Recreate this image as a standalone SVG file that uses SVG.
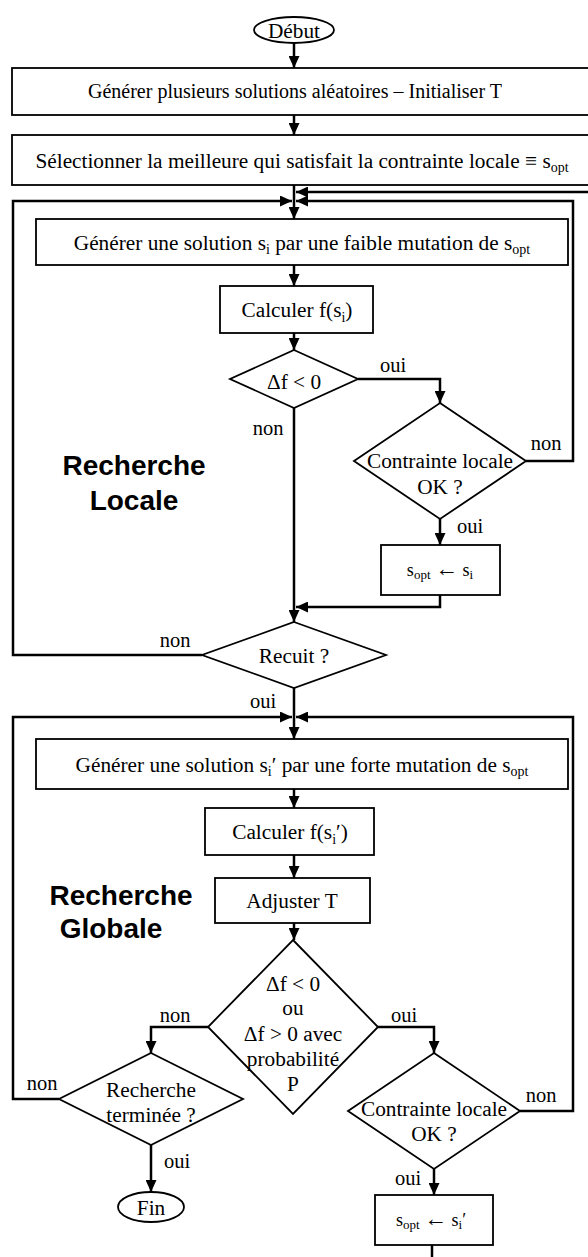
<svg xmlns="http://www.w3.org/2000/svg" width="588" height="1257" viewBox="0 0 588 1257">
<defs>
<marker id="ah" markerUnits="userSpaceOnUse" markerWidth="12" markerHeight="11" refX="12" refY="5.5" orient="auto"><path d="M0,0 L12,5.5 L0,11 z" fill="#000"/></marker>
<style>
.n{fill:#fff;stroke:#000;stroke-width:1.8}
.c{fill:none;stroke:#000;stroke-width:2.5}
.a{marker-end:url(#ah)}
.t{font-family:"Liberation Serif","Times New Roman",serif;font-size:21.3px;fill:#000;text-anchor:middle}
.l{font-size:20.5px}
.f{font-size:20px}
.m{font-size:18px}
.s{font-size:14px}
.ss{font-size:13px}
.ar{font-size:23px}
.b{font-family:"Liberation Sans",Arial,sans-serif;font-weight:bold;font-size:28px;fill:#000;text-anchor:middle}
</style>
</defs>
<rect width="588" height="1257" fill="#fff"/>
<g id="nodes">
<g id="debut"><ellipse class="n" cx="294" cy="30" rx="40" ry="13"/><text class="t" x="294" y="37.5">Début</text></g>
<g id="init"><rect class="n" x="12" y="68" width="590" height="47"/><text class="t f" x="295" y="98">Générer plusieurs solutions aléatoires – Initialiser T</text></g>
<g id="select"><rect class="n" x="12" y="135" width="590" height="50"/><text class="t" x="302" y="167.5">Sélectionner la meilleure qui satisfait la contrainte locale ≡ s<tspan class="s" dy="4.5">opt</tspan></text></g>
<g id="gen-local"><rect class="n" x="36" y="219" width="532" height="46"/><text class="t" x="302" y="249.5">Générer une solution s<tspan class="s" dy="4.5">i</tspan><tspan dy="-4.5"> par une faible mutation de s</tspan><tspan class="s" dy="4.5">opt</tspan></text></g>
<g id="calc-local"><rect class="n" x="220" y="286" width="153" height="47"/><text class="t" x="297" y="317">Calculer f(s<tspan class="s" dy="4.5">i</tspan><tspan dy="-4.5">)</tspan></text></g>
<g id="df-local"><polygon class="n" points="294,350 358,379 294,408 230,379"/><text class="t" x="294" y="389">Δf &lt; 0</text></g>
<g id="cl-local"><polygon class="n" points="440,403 526,461 440,519 354,461"/><text class="t" x="440" y="468">Contrainte locale</text><text class="t" x="440" y="494">OK ?</text></g>
<g id="sopt-local"><rect class="n" x="381" y="545" width="119" height="50"/><text class="t m" x="440" y="576">s<tspan class="ss" dy="3">opt</tspan><tspan dy="-3"> </tspan><tspan class="ar">←</tspan><tspan> s</tspan><tspan class="ss" dy="3">i</tspan></text></g>
<g id="recuit"><polygon class="n" points="294,622 386,655 294,688 202,655"/><text class="t" x="294" y="662.5">Recuit ?</text></g>
<g id="gen-global"><rect class="n" x="36" y="739" width="532" height="50"/><text class="t" x="302" y="771.5">Générer une solution s<tspan class="s" dy="4.5">i</tspan><tspan dy="-4.5">′ par une forte mutation de s</tspan><tspan class="s" dy="4.5">opt</tspan></text></g>
<g id="calc-global"><rect class="n" x="205" y="808" width="169" height="47"/><text class="t" x="290" y="839">Calculer f(s<tspan class="s" dy="4.5">i</tspan><tspan dy="-4.5">′)</tspan></text></g>
<g id="adjust"><rect class="n" x="215" y="878" width="155" height="45"/><text class="t" x="292" y="908">Adjuster T</text></g>
<g id="df-global"><polygon class="n" points="293,940 378,1027 293,1114 208,1027"/><text class="t" x="293" y="990.5">Δf &lt; 0</text><text class="t" x="293" y="1015">ou</text><text class="t" x="293" y="1040.5">Δf &gt; 0 avec</text><text class="t" x="293" y="1065.5">probabilité</text><text class="t" x="293" y="1090.5">P</text></g>
<g id="termine"><polygon class="n" points="151,1053 243,1099 151,1145 59,1099"/><text class="t" x="151" y="1096.5">Recherche</text><text class="t" x="151" y="1121.5">terminée ?</text></g>
<g id="fin"><ellipse class="n" cx="151" cy="1207" rx="33" ry="15"/><text class="t" x="151" y="1214.5">Fin</text></g>
<g id="cl-global"><polygon class="n" points="434,1053 520,1111 434,1169 348,1111"/><text class="t" x="434" y="1115.5">Contrainte locale</text><text class="t" x="434" y="1140.5">OK ?</text></g>
<g id="sopt-global"><rect class="n" x="375" y="1195" width="118" height="50"/><text class="t m" x="431" y="1226">s<tspan class="ss" dy="3">opt</tspan><tspan dy="-3"> </tspan><tspan class="ar">←</tspan><tspan> s</tspan><tspan class="ss" dy="3">i</tspan><tspan dy="-3">′</tspan></text></g>
<g id="title-local"><text class="b" x="134" y="475">Recherche</text><text class="b" x="134" y="510">Locale</text></g>
<g id="title-global"><text class="b" x="121" y="905">Recherche</text><text class="b" x="111" y="938">Globale</text></g>
</g>
<g id="connectors">
<path class="c a" d="M294,43 V68"/>
<path class="c a" d="M294,115 V135"/>
<path class="c a" d="M294,185 V219"/>
<path class="c a" d="M600,192 H296"/>
<path class="c a" d="M202,655 H13 V201 H292"/>
<path class="c a" d="M526,461 H573 V201 H296"/>
<path class="c a" d="M294,265 V286"/>
<path class="c a" d="M294,333 V350"/>
<path class="c a" d="M358,379 H440 V403"/>
<path class="c a" d="M294,408 V622"/>
<path class="c a" d="M440,519 V545"/>
<path class="c a" d="M440,595 V607 H296"/>
<path class="c a" d="M294,688 V739"/>
<path class="c a" d="M59,1099 H13 V717 H292"/>
<path class="c a" d="M520,1111 H573 V717 H296"/>
<path class="c a" d="M294,789 V808"/>
<path class="c a" d="M294,855 V878"/>
<path class="c a" d="M294,923 V940"/>
<path class="c a" d="M208,1027 H151 V1053"/>
<path class="c a" d="M378,1027 H434 V1053"/>
<path class="c a" d="M151,1145 V1192"/>
<path class="c a" d="M434,1169 V1195"/>
<path class="c" d="M432,1245 V1260"/>
<g id="labels">
<text class="t l" x="393" y="372">oui</text>
<text class="t l" x="268" y="435">non</text>
<text class="t l" x="546" y="450">non</text>
<text class="t l" x="470" y="533">oui</text>
<text class="t l" x="175" y="647">non</text>
<text class="t l" x="263" y="708">oui</text>
<text class="t l" x="175" y="1022">non</text>
<text class="t l" x="404" y="1022">oui</text>
<text class="t l" x="42" y="1090">non</text>
<text class="t l" x="177" y="1168">oui</text>
<text class="t l" x="541" y="1102">non</text>
<text class="t l" x="408" y="1185">oui</text>
</g>
</g>
</svg>
